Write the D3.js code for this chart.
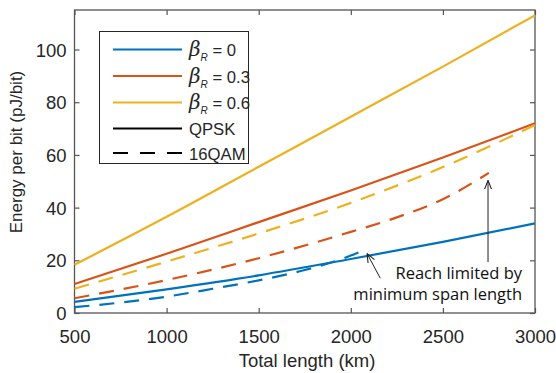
<!DOCTYPE html>
<html><head><meta charset="utf-8">
<script src="https://cdn.jsdelivr.net/npm/d3@7"></script>
<style>body{margin:0;background:#fff}svg{display:block}</style>
</head><body>
<svg id="c" width="556" height="373"></svg>
<script>
// ---- data ----
const xTicks = [500, 1000, 1500, 2000, 2500, 3000];
const yTicks = [0, 20, 40, 60, 80, 100];
const lenQPSK = [500, 1000, 1500, 2000, 2500, 3000];
const qpskB0 = [4.2, 9.0, 14.3, 20.5, 27.0, 34.0];
const qpskB3 = [11.0, 22.5, 34.5, 46.5, 59.0, 72.0];
const qpskB6 = [18.3, 36.5, 55.5, 74.5, 93.5, 113.0];
const len16B0 = [500, 1000, 1250, 1500, 1750, 2000, 2075];
const qamB0 = [2.2, 6.2, 9.2, 12.4, 16.3, 21.8, 24.0];
const len16B3 = [500, 1000, 1500, 2000, 2250, 2500, 2750];
const qamB3 = [5.6, 12.5, 20.8, 30.8, 36.3, 43.2, 53.2];
const len16B6 = [500, 1000, 1500, 2000, 2500, 3000];
const qamB6 = [9.2, 19.5, 30.2, 41.8, 55.4, 71.3];
const betaLabels = ["0", "0.3", "0.6"];
const modLabels = ["QPSK", "16QAM"];
const colors = ["#0072BD", "#D95319", "#EDB120"];

const svg = d3.select("#c");
const L = 74.5, R = 535, T = 10, B = 313;
const x = d3.scaleLinear().domain([500, 3000]).range([L, R]);
const y = d3.scaleLinear().domain([0, 115]).range([B, T]);
const axisColor = "#555";
const textColor = "#262626";
const font = "'Liberation Sans', Arial, sans-serif";

// axes with inward ticks
const tl = 5;
const gx = svg.append("g").attr("transform", `translate(0,${B})`)
  .call(d3.axisBottom(x).tickValues(xTicks).tickSize(-tl).tickPadding(12).tickFormat(d3.format("d")));
const gxt = svg.append("g").attr("transform", `translate(0,${T})`)
  .call(d3.axisTop(x).tickValues(xTicks).tickSize(-tl).tickFormat(""));
const gy = svg.append("g").attr("transform", `translate(${L},0)`)
  .call(d3.axisLeft(y).tickValues(yTicks).tickSize(-tl).tickPadding(8));
const gyr = svg.append("g").attr("transform", `translate(${R},0)`)
  .call(d3.axisRight(y).tickValues(yTicks).tickSize(-tl).tickFormat(""));
[gx, gxt, gy, gyr].forEach(g => {
  g.select(".domain").remove();
  g.selectAll(".tick line").attr("stroke", axisColor).attr("stroke-width", 1.2);
  g.selectAll(".tick text").attr("fill", textColor).style("font-family", font).style("font-size", "18.5px");
});
gx.selectAll(".tick text").attr("dy", null).attr("y", 30.3);
gy.selectAll(".tick text").attr("dy", "0.35em");
svg.append("rect").attr("x", L).attr("y", T).attr("width", R - L).attr("height", B - T)
  .attr("fill", "none").attr("stroke", axisColor).attr("stroke-width", 1.3);

// series
const line = d3.line().x(d => x(d[0])).y(d => y(d[1])).curve(d3.curveMonotoneX);
const series = [
  {xs: lenQPSK, ys: qpskB0, c: 0, dash: null},
  {xs: lenQPSK, ys: qpskB3, c: 1, dash: null},
  {xs: lenQPSK, ys: qpskB6, c: 2, dash: null},
  {xs: len16B0, ys: qamB0, c: 0, dash: "15,10"},
  {xs: len16B3, ys: qamB3, c: 1, dash: "15,10"},
  {xs: len16B6, ys: qamB6, c: 2, dash: "15,10"}
];
const plot = svg.append("g");
series.forEach(s => {
  plot.append("path").datum(s.xs.map((v, i) => [v, s.ys[i]]))
    .attr("d", line).attr("fill", "none").attr("stroke", colors[s.c])
    .attr("stroke-width", 2.2).attr("stroke-dasharray", s.dash);
});

// annotations
const defs = svg.append("defs");
defs.append("marker").attr("id", "ah").attr("viewBox", "0 0 10 10").attr("refX", 10).attr("refY", 5)
  .attr("markerWidth", 9).attr("markerHeight", 9).attr("markerUnits", "userSpaceOnUse").attr("orient", "auto")
  .append("path").attr("d", "M0,1 L10,5 L0,9").attr("fill", "none").attr("stroke", "#222").attr("stroke-width", 1.2);
const arrows = [[2745, 19.3, 2745, 50.3], [2160, 13.2, 2088, 22.6]];
arrows.forEach(a => {
  svg.append("line").attr("x1", x(a[0])).attr("y1", y(a[1])).attr("x2", x(a[2])).attr("y2", y(a[3]))
    .attr("stroke", "#222").attr("stroke-width", 1).attr("marker-end", "url(#ah)");
});
const annFont = "'Open Sans', 'Noto Sans', sans-serif";
svg.append("text").attr("x", x(2930)).attr("y", y(13.0)).attr("text-anchor", "end")
  .style("font-family", annFont).style("font-size", "16.5px").attr("fill", "#111").text("Reach limited by");
svg.append("text").attr("x", x(2930)).attr("y", y(4.8)).attr("text-anchor", "end")
  .style("font-family", annFont).style("font-size", "16.5px").attr("fill", "#111").text("minimum span length");

// axis labels
svg.append("text").attr("x", 307).attr("y", 366.5).attr("text-anchor", "middle")
  .style("font-family", font).style("font-size", "18.5px").attr("fill", textColor).text("Total length (km)");
svg.append("text").attr("transform", `translate(21.5,152) rotate(-90)`).attr("text-anchor", "middle")
  .style("font-family", font).style("font-size", "17px").attr("fill", textColor).text("Energy per bit (pJ/bit)");

// legend
const lg = svg.append("g");
lg.append("rect").attr("x", 99.5).attr("y", 31.5).attr("width", 149).attr("height", 132)
  .attr("fill", "#fff").attr("stroke", "#262626").attr("stroke-width", 1);
const rowY = [49.5, 76, 102.5, 128.5, 153];
betaLabels.forEach((b, i) => {
  lg.append("line").attr("x1", 113).attr("x2", 182).attr("y1", rowY[i]).attr("y2", rowY[i])
    .attr("stroke", colors[i]).attr("stroke-width", 2.2);
  const t = lg.append("text").attr("x", 189).attr("y", rowY[i] + 6.5)
    .style("font-family", font).style("font-size", "16.7px").attr("fill", textColor);
  t.append("tspan").style("font-style", "italic").style("font-size", "20px").style("font-family", "'DejaVu Serif', serif").text("β");
  t.append("tspan").style("font-style", "italic").style("font-size", "10px").attr("dy", 5).text("R");
  t.append("tspan").attr("dy", -5).text(" = " + b);
});
modLabels.forEach((m, j) => {
  const i = j + 3;
  lg.append("line").attr("x1", 113).attr("x2", 182).attr("y1", rowY[i]).attr("y2", rowY[i])
    .attr("stroke", "#000").attr("stroke-width", 2.2).attr("stroke-dasharray", j ? "15,12" : null);
  lg.append("text").attr("x", 189).attr("y", rowY[i] + 6.5)
    .style("font-family", font).style("font-size", "16.7px").attr("fill", textColor).text(m);
});
</script>
</body></html>
